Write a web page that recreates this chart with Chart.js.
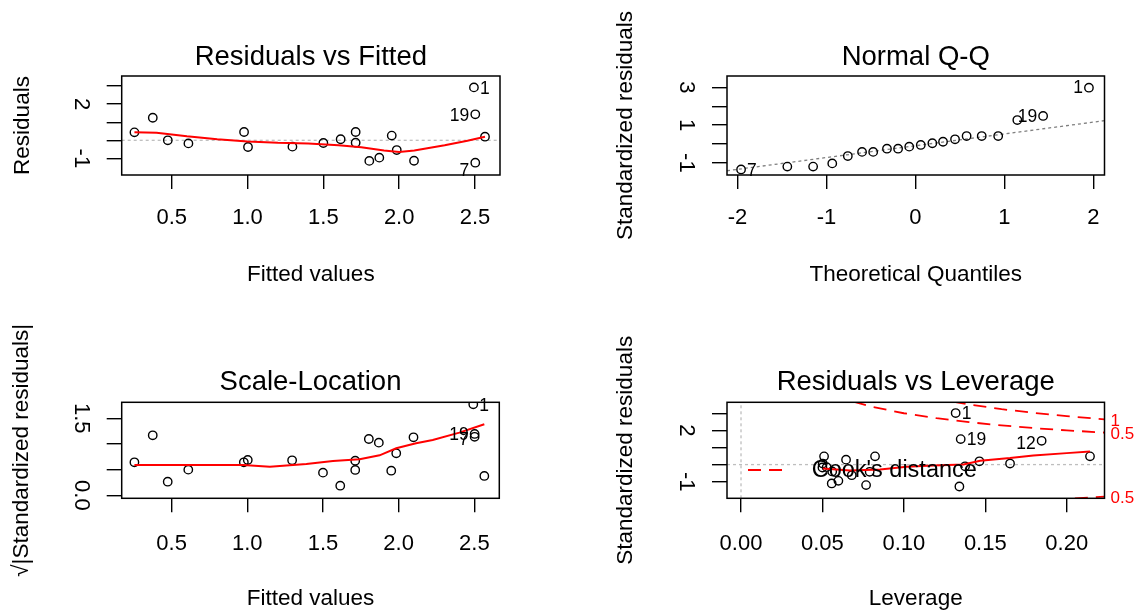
<!DOCTYPE html>
<html>
<head>
<meta charset="utf-8">
<script src="https://cdn.jsdelivr.net/npm/chart.js@4.4.1/dist/chart.umd.min.js"></script>
<style>
  html, body { margin: 0; padding: 0; background: #fff; }
  #wrap { position: relative; width: 1138px; height: 616px; overflow: hidden; }
  .panel { position: absolute; width: 569px; height: 308px; }
</style>
</head>
<body>
<div id="wrap">
  <div class="panel" style="left:0;top:0"><canvas id="c1" width="569" height="308"></canvas></div>
  <div class="panel" style="left:569px;top:0"><canvas id="c2" width="569" height="308"></canvas></div>
  <div class="panel" style="left:0;top:308px"><canvas id="c3" width="569" height="308"></canvas></div>
  <div class="panel" style="left:569px;top:308px"><canvas id="c4" width="569" height="308"></canvas></div>
</div>
<script>
const FONT = "'Liberation Sans', Arial, sans-serif";

// Residuals vs Fitted
const fitted = [0.254, 0.375, 0.474, 0.61, 0.977, 1.003, 1.296, 1.5, 1.614, 1.713,
  1.713, 1.803, 1.869, 1.951, 1.984, 2.098, 2.493, 2.502, 2.502, 2.566];
const residuals = [0.44, 1.25, 0.0, -0.17, 0.46, -0.37, -0.35, -0.15, 0.06, 0.46,
  -0.13, -1.14, -0.96, 0.26, -0.54, -1.13, 2.93, 1.44, -1.24, 0.2];
const rvfSmoothX = [0.254, 0.4, 0.6, 0.8, 1.0, 1.2, 1.4, 1.6, 1.75, 1.9, 2.0, 2.1, 2.3, 2.45, 2.566];
const rvfSmoothY = [0.44, 0.42, 0.22, 0.06, -0.06, -0.14, -0.18, -0.27, -0.38, -0.57, -0.65, -0.56, -0.27, -0.02, 0.2];
const rvfXTicks = [0.5, 1.0, 1.5, 2.0, 2.5];
const rvfYTicks = [-1, 0, 1, 2, 3];
const rvfYShown = [-1, 2];

// Normal Q-Q
const theoQuant = [-1.96, -1.44, -1.15, -0.935, -0.76, -0.6, -0.475, -0.32, -0.195, -0.07,
  0.06, 0.19, 0.31, 0.445, 0.575, 0.745, 0.93, 1.145, 1.435, 1.95];
const stdResid = [-1.35, -1.2, -1.2, -1.03, -0.64, -0.42, -0.42, -0.25, -0.25, -0.14,
  -0.05, 0.04, 0.12, 0.25, 0.42, 0.42, 0.42, 1.27, 1.49, 2.99];
const qqLineX = [-2.118, 2.125];
const qqLineY = [-1.42, 1.24];
const qqXTicks = [-2, -1, 0, 1, 2];
const qqYTicks = [-1, 0, 1, 2, 3];
const qqYShown = [-1, 1, 3];

// Scale-Location
const sqrtStdResid = [0.643, 1.169, 0.266, 0.5, 0.643, 0.688, 0.682, 0.442, 0.188, 0.675,
  0.494, 1.097, 1.026, 0.48, 0.818, 1.13, 1.773, 1.195, 1.14, 0.377];
const slSmoothX = [0.254, 0.973, 1.149, 1.39, 1.566, 1.742, 1.874, 1.984, 2.115, 2.225, 2.401, 2.566];
const slSmoothY = [0.591, 0.591, 0.558, 0.61, 0.669, 0.701, 0.779, 0.916, 1.013, 1.078, 1.221, 1.383];
const slYTicks = [0, 0.5, 1.0, 1.5];
const slYShown = [0, 1.5];

// Residuals vs Leverage
const leverage = [0.2143, 0.1846, 0.1652, 0.1376, 0.0823, 0.079, 0.056, 0.05, 0.0502, 0.051,
  0.0526, 0.0557, 0.0598, 0.0645, 0.068, 0.0768, 0.1318, 0.1349, 0.1341, 0.1464];
const levStdResid = [0.48, 1.39, 0.06, -0.1, 0.48, -0.42, -0.4, -0.17, 0.06, 0.48,
  -0.15, -1.1, -0.95, 0.29, -0.62, -1.2, 3.01, 1.49, -1.28, 0.19];
const lvSmoothX = [0.0502, 0.0669, 0.0854, 0.1017, 0.1181, 0.1366, 0.1468, 0.1652, 0.1795, 0.2, 0.2143];
const lvSmoothY = [-0.23, -0.34, -0.29, -0.13, -0.06, 0.0, 0.23, 0.38, 0.53, 0.67, 0.76];
const cookHalfX = [0.069, 0.08, 0.1, 0.12, 0.14, 0.16, 0.18, 0.2, 0.2232];
const cookHalfY = [3.68, 3.39, 3.0, 2.71, 2.48, 2.29, 2.13, 2.0, 1.87];
const cookOneX = [0.13, 0.14, 0.16, 0.18, 0.2, 0.2232];
const cookOneY = [3.68, 3.51, 3.24, 3.02, 2.83, 2.64];
const cookHalfLowX = [0.205, 0.2232];
const cookHalfLowY = [-1.98, -1.87];
const cookLabels = ["1", "0.5", "0.5"];
const cookLabelY = [2.64, 1.87, -1.87];
const lvXTicks = [0, 0.05, 0.1, 0.15, 0.2];
const lvYTicks = [-1, 0, 1, 2, 3];
const lvYShown = [-1, 2];

const pts = (xs, ys) => xs.map((x, i) => ({ x, y: ys[i] }));

const meas = document.createElement("canvas").getContext("2d");
meas.font = "22px " + FONT;
const tickPad = labels => 26 - Math.max(...labels.map(t => meas.measureText(t).width)) / 2;

const pointSet = data => ({
  data, order: 1, clip: 0,
  pointStyle: "circle", pointRadius: 4.2, pointBorderWidth: 1.4,
  pointBorderColor: "#000", pointBackgroundColor: "rgba(0,0,0,0)"
});
const lineSet = (data, color, width, dash, order) => ({
  data, order, clip: 0, showLine: true, pointRadius: 0, fill: false, tension: 0,
  borderColor: color, borderWidth: width, borderDash: dash
});

function decor(o) {
  return {
    id: "decor",
    afterDatasetsDraw(chart) {
      const { ctx, chartArea: a, scales } = chart;
      ctx.save();
      ctx.strokeStyle = "#000";
      ctx.lineWidth = 1.5;
      ctx.strokeRect(a.left, a.top, a.right - a.left, a.bottom - a.top);

      ctx.fillStyle = "#000";
      ctx.font = "17.5px " + FONT;
      ctx.textBaseline = "middle";
      o.ids.forEach(([i, text, side, dy]) => {
        const px = scales.x.getPixelForValue(o.xs[i]);
        const py = scales.y.getPixelForValue(o.ys[i]);
        ctx.textAlign = side === "right" ? "left" : "right";
        ctx.fillText(text, px + (side === "right" ? 6 : -6), py + dy);
      });

      ctx.font = "22.5px " + FONT;
      ctx.textAlign = "center";
      ctx.translate(o.yTitleX, (a.top + a.bottom) / 2);
      ctx.rotate(-Math.PI / 2);
      ctx.fillText(o.yTitle, 0, 0);
      ctx.restore();
      if (o.extra) o.extra(chart);
    }
  };
}

function panel(id, o) {
  const font = { family: FONT, size: 22, lineHeight: 1.2 };
  return new Chart(document.getElementById(id), {
    type: "scatter",
    data: { datasets: o.datasets },
    options: {
      responsive: false,
      animation: false,
      devicePixelRatio: 1,
      events: [],
      layout: { padding: { left: 0, right: o.padRight, top: 0, bottom: 0 } },
      plugins: {
        legend: { display: false },
        tooltip: { enabled: false },
        title: {
          display: true, text: o.title, color: "#000", fullSize: false,
          font: { family: FONT, size: 27.5, weight: "normal", lineHeight: 1 },
          padding: { top: o.titleTop, bottom: o.titleBottom }
        }
      },
      scales: {
        x: {
          type: "linear", min: o.xMin, max: o.xMax,
          afterBuildTicks: s => { s.ticks = o.xTicks.map(v => ({ value: v })); },
          afterFit: s => { s.height = o.xHeight; },
          border: { display: false },
          grid: { drawOnChartArea: false, drawTicks: true, tickLength: 14, color: "#000", lineWidth: 1.4 },
          ticks: { autoSkip: false, maxRotation: 0, padding: o.xTickPad, color: "#000", font, callback: o.xFmt },
          title: {
            display: true, text: o.xTitle, color: "#000",
            font: { family: FONT, size: 22.5, lineHeight: 1 },
            padding: { top: 0, bottom: o.xTitlePad }
          }
        },
        y: {
          type: "linear", min: o.yMin, max: o.yMax,
          afterBuildTicks: s => { s.ticks = o.yTicks.map(v => ({ value: v })); },
          afterFit: s => { s.width = o.yWidth; },
          border: { display: false },
          grid: { drawOnChartArea: false, drawTicks: true, tickLength: 15, color: "#000", lineWidth: 1.4 },
          ticks: {
            autoSkip: false, minRotation: -90, crossAlign: "center", color: "#000", font,
            padding: tickPad(o.yShown.map(o.yFmt)),
            callback: v => o.yShown.includes(v) ? o.yFmt(v) : ""
          },
          title: { display: false }
        }
      }
    },
    plugins: [decor(o)]
  });
}

const fix1 = v => v.toFixed(1);
const plain = v => String(v);

panel("c1", {
  title: "Residuals vs Fitted", xTitle: "Fitted values", yTitle: "Residuals",
  xMin: 0.17, xMax: 2.665, yMin: -1.92, yMax: 3.56,
  xTicks: rvfXTicks, yTicks: rvfYTicks, yShown: rvfYShown, xFmt: fix1, yFmt: plain,
  padRight: 69, yWidth: 121.7, xHeight: 133, titleTop: 43.5, titleBottom: 5,
  xTickPad: 15.3, xTitlePad: 21.75, yTitleX: 23,
  xs: fitted, ys: residuals,
  ids: [[16, "1", "right", 1.5], [17, "19", "left", 1.5], [18, "7", "left", 8]],
  datasets: [
    lineSet(pts(rvfSmoothX, rvfSmoothY), "#ff0000", 2, [], 0),
    pointSet(pts(fitted, residuals)),
    lineSet(pts([0.17, 2.665], [0, 0]), "#bebebe", 1.3, [3, 3], 2)
  ]
});

panel("c2", {
  title: "Normal Q-Q", xTitle: "Theoretical Quantiles", yTitle: "Standardized residuals",
  xMin: -2.118, xMax: 2.125, yMin: -1.646, yMax: 3.61,
  xTicks: qqXTicks, yTicks: qqYTicks, yShown: qqYShown, xFmt: plain, yFmt: plain,
  padRight: 33.5, yWidth: 158, xHeight: 133, titleTop: 43.5, titleBottom: 5,
  xTickPad: 15.3, xTitlePad: 21.75, yTitleX: 57,
  xs: theoQuant, ys: stdResid,
  ids: [[0, "7", "right", 1.5], [18, "19", "left", 1.5], [19, "1", "left", 0]],
  datasets: [
    pointSet(pts(theoQuant, stdResid)),
    lineSet(pts(qqLineX, qqLineY), "#7f7f7f", 1.3, [3, 3], 2)
  ]
});

panel("c3", {
  title: "Scale-Location", xTitle: "Fitted values", yTitle: "\u221A|Standardized residuals|",
  xMin: 0.17, xMax: 2.665, yMin: -0.058, yMax: 1.812,
  xTicks: rvfXTicks, yTicks: slYTicks, yShown: slYShown, xFmt: fix1, yFmt: fix1,
  padRight: 69.7, yWidth: 121.7, xHeight: 117.7, titleTop: 60.5, titleBottom: 6.3,
  xTickPad: 18.5, xTitlePad: 6.25, yTitleX: 21.5,
  xs: fitted, ys: sqrtStdResid,
  ids: [[16, "1", "right", 2], [17, "19", "left", 1.5], [18, "7", "left", 3]],
  datasets: [
    lineSet(pts(slSmoothX, slSmoothY), "#ff0000", 2, [], 0),
    pointSet(pts(fitted, sqrtStdResid))
  ]
});

panel("c4", {
  title: "Residuals vs Leverage", xTitle: "Leverage", yTitle: "Standardized residuals",
  xMin: -0.0086, xMax: 0.2232, yMin: -1.97, yMax: 3.64,
  xTicks: lvXTicks, yTicks: lvYTicks, yShown: lvYShown, xFmt: v => v.toFixed(2), yFmt: plain,
  padRight: 33.5, yWidth: 158, xHeight: 117.7, titleTop: 60.5, titleBottom: 6.3,
  xTickPad: 18.5, xTitlePad: 6.25, yTitleX: 57,
  xs: leverage, ys: levStdResid,
  ids: [[16, "1", "right", 1], [17, "19", "right", 1], [1, "12", "left", 3]],
  datasets: [
    lineSet(pts(lvSmoothX, lvSmoothY), "#ff0000", 2, [], 0),
    pointSet(pts(leverage, levStdResid)),
    lineSet(pts(cookHalfX, cookHalfY), "#ff0000", 1.8, [13, 8], 1),
    lineSet(pts(cookOneX, cookOneY), "#ff0000", 1.8, [13, 8], 1),
    lineSet(pts(cookHalfLowX, cookHalfLowY), "#ff0000", 1.8, [13, 8], 1),
    lineSet(pts([-0.0086, 0.2232], [0, 0]), "#bebebe", 1.3, [3, 3], 2),
    lineSet(pts([0, 0], [-1.97, 3.64]), "#bebebe", 1.3, [3, 3], 2)
  ],
  extra(chart) {
    const { ctx, chartArea: a, scales: { y } } = chart;
    ctx.save();
    ctx.strokeStyle = "#ff0000";
    ctx.lineWidth = 1.8;
    ctx.setLineDash([13, 8]);
    ctx.beginPath();
    ctx.moveTo(a.left + 21, a.top + 67.7);
    ctx.lineTo(a.left + 60, a.top + 67.7);
    ctx.stroke();
    ctx.setLineDash([]);
    ctx.fillStyle = "#000";
    ctx.font = "23.5px " + FONT;
    ctx.textBaseline = "middle";
    ctx.textAlign = "left";
    ctx.fillText("Cook's distance", a.left + 84.7, a.top + 68.7);
    ctx.fillStyle = "#ff0000";
    ctx.font = "17px " + FONT;
    cookLabels.forEach((t, i) => ctx.fillText(t, a.right + 6, y.getPixelForValue(cookLabelY[i]) + 2));
    ctx.restore();
  }
});
</script>
</body>
</html>
